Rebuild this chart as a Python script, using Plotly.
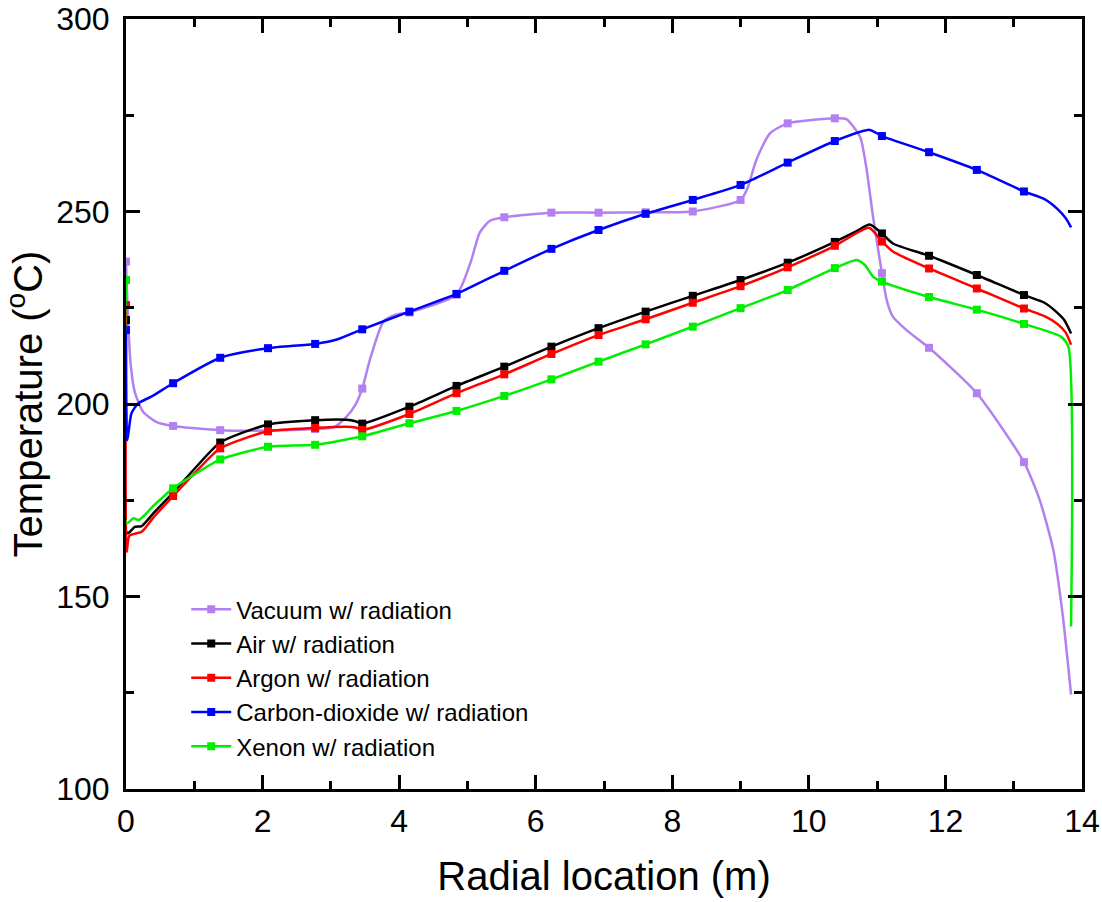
import plotly.graph_objects as go

# ---------------- data ----------------
MARKER_X = [0.0, 0.69, 1.38, 2.08, 2.77, 3.46, 4.15, 4.84, 5.54, 6.23,
            6.92, 7.61, 8.30, 9.00, 9.69, 10.38, 11.07, 11.76, 12.46, 13.15]

vacuum_marker_y = [237.0, 194.3, 193.2, 193.1, 193.5, 204.0, 223.8, 228.4, 248.5, 249.7,
                   249.7, 249.8, 250.0, 253.0, 272.9, 274.2, 234.0, 214.6, 202.8, 184.9]
vacuum_extra_x = [0.03, 0.07, 0.13, 0.25, 0.45, 3.05, 3.23, 3.35, 3.57, 3.77, 3.95,
                  5.05, 5.18, 5.33, 9.10, 9.23, 9.43, 10.55, 10.75, 10.84, 10.94,
                  11.14, 11.23, 11.43, 13.38, 13.58, 13.72, 13.84]
vacuum_extra_y = [222.0, 210.0, 203.0, 198.0, 195.3, 194.0, 196.7, 199.5, 211.4, 221.4, 223.2,
                  237.0, 244.5, 247.6, 256.0, 263.4, 270.3, 274.0, 269.4, 261.6, 248.6,
                  227.0, 222.7, 219.2, 175.1, 162.1, 144.8, 124.5]

air_marker_y = [221.8, 177.0, 190.0, 194.7, 195.8, 194.9, 199.3, 204.7, 209.7, 214.9,
                219.7, 224.0, 228.1, 232.2, 236.7, 242.1, 244.3, 238.5, 233.5, 228.3]
air_extra_x = [0.02, 0.13, 0.23, 0.40, 1.03, 3.23, 3.36, 10.70, 10.89, 11.23,
               13.45, 13.62, 13.74, 13.84]
air_extra_y = [166.4, 168.1, 168.3, 171.6, 183.7, 195.9, 195.5, 244.9, 246.6, 241.7,
               226.3, 224.0, 221.8, 218.3]

argon_marker_y = [225.7, 176.1, 188.5, 192.9, 193.8, 193.3, 197.4, 202.8, 207.7, 213.0,
                  217.9, 222.0, 226.3, 230.6, 235.5, 241.1, 242.2, 235.2, 230.0, 224.8]
argon_extra_x = [0.01, 0.05, 0.23, 0.40, 1.03, 3.23, 3.36, 10.88, 11.23,
                 13.45, 13.64, 13.76, 13.84]
argon_extra_y = [161.6, 165.8, 166.8, 170.5, 182.5, 194.1, 193.9, 245.8, 239.6,
                 222.8, 220.8, 218.6, 215.4]

co2_marker_y = [219.2, 205.4, 212.0, 214.5, 215.6, 219.4, 224.0, 228.6, 234.6, 240.3,
                245.2, 249.4, 253.0, 256.9, 262.7, 268.3, 269.6, 265.4, 260.8, 255.2]
co2_extra_x = [0.02, 0.08, 0.18, 0.37, 3.10, 10.89, 13.45, 13.65, 13.76, 13.84]
co2_extra_y = [190.6, 197.6, 200.2, 201.9, 216.8, 271.2, 253.2, 250.5, 248.3, 245.9]

xenon_marker_y = [232.2, 178.1, 185.6, 188.9, 189.4, 191.6, 195.0, 198.2, 202.1, 206.4,
                  211.0, 215.5, 220.1, 224.9, 229.6, 235.3, 231.8, 227.8, 224.5, 220.8]
xenon_extra_x = [0.01, 0.11, 0.19, 0.40, 1.03, 10.70, 10.82, 10.94, 13.69, 13.80, 13.84]
xenon_extra_y = [169.0, 170.3, 169.9, 173.5, 182.0, 237.4, 236.1, 233.1, 217.5, 214.9, 142.2]

SERIES = [
    ("Vacuum w/ radiation", "#B280F0", vacuum_marker_y, vacuum_extra_x, vacuum_extra_y),
    ("Air w/ radiation", "#000000", air_marker_y, air_extra_x, air_extra_y),
    ("Argon w/ radiation", "#FF0000", argon_marker_y, argon_extra_x, argon_extra_y),
    ("Carbon-dioxide w/ radiation", "#0000FF", co2_marker_y, co2_extra_x, co2_extra_y),
    ("Xenon w/ radiation", "#00EE00", xenon_marker_y, xenon_extra_x, xenon_extra_y),
]

FONT = "Liberation Sans, Arial, sans-serif"

fig = go.Figure()
for name, color, my, ex, ey in SERIES:
    pts = sorted(list(zip(MARKER_X, my)) + list(zip(ex, ey)))
    cx = [p[0] for p in pts]
    cy = [p[1] for p in pts]
    fig.add_trace(go.Scatter(x=cx, y=cy, mode="lines", showlegend=False,
                             line=dict(color=color, width=2.5, shape="spline", smoothing=0.6),
                             hoverinfo="skip"))
    fig.add_trace(go.Scatter(x=MARKER_X, y=my, mode="markers", showlegend=False,
                             marker=dict(symbol="square", size=8, color=color)))
    fig.add_trace(go.Scatter(x=[None], y=[None], mode="lines+markers", name=name,
                             line=dict(color=color, width=2.5),
                             marker=dict(symbol="square", size=8, color=color)))

axis_common = dict(
    showline=True, linewidth=3, linecolor="black", mirror="ticks",
    ticks="inside", ticklen=14, tickwidth=2.5, tickcolor="black",
    showgrid=False, zeroline=False, automargin=False,
    tickfont=dict(family=FONT, size=32, color="black"),
)

fig.update_layout(
    width=1102, height=902,
    margin=dict(l=126, r=20, t=19, b=113, autoexpand=False),
    paper_bgcolor="white", plot_bgcolor="white",
    font=dict(family=FONT, color="black"),
    xaxis=dict(range=[0, 14], tick0=0, dtick=2,
               minor=dict(dtick=1, ticks="inside", ticklen=8, tickwidth=2.5, tickcolor="black"),
               title=dict(text="Radial location (m)", font=dict(family=FONT, size=40), standoff=24),
               ticklabelstandoff=2,
               **axis_common),
    yaxis=dict(range=[100, 300], tick0=100, dtick=50,
               minor=dict(dtick=25, ticks="inside", ticklen=8, tickwidth=2.5, tickcolor="black"),
               title=dict(text="Temperature (<sup>o</sup>C)", font=dict(family=FONT, size=40), standoff=12),
               ticklabelstandoff=7,
               **axis_common),
    legend=dict(x=0.063, y=0.262, xanchor="left", yanchor="top",
                bgcolor="rgba(0,0,0,0)", borderwidth=0,
                font=dict(family=FONT, size=24, color="black"),
                tracegroupgap=0, itemwidth=40),
    showlegend=True,
)

fig.write_html("out.html")
